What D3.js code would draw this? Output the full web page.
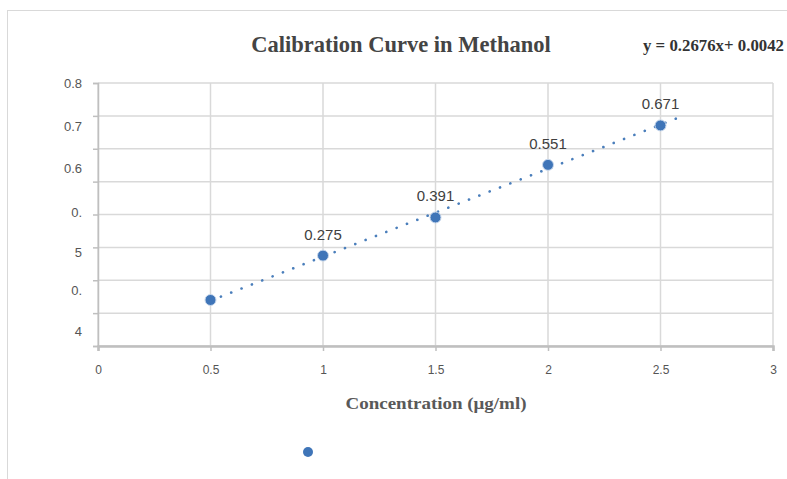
<!DOCTYPE html>
<html>
<head>
<meta charset="utf-8">
<script src="https://cdn.jsdelivr.net/npm/d3@7"></script>
<style>
  body { margin: 0; background: #fff; }
  svg { display: block; }
  .grid line { stroke: #d9d9d9; stroke-width: 1.5; }
  .axis text { font-family: "Liberation Sans", Arial, sans-serif; font-size: 12px; fill: #555; }
</style>
</head>
<body>
<div id="chart"></div>
<script>
// data
var concentrations = [0.5, 1, 1.5, 2, 2.5];
var absorbance = [0.140, 0.275, 0.391, 0.551, 0.671];
var pointLabels = ["", "0.275", "0.391", "0.551", "0.671"];

var xTicks = [0, 0.5, 1, 1.5, 2, 2.5, 3];
var yGrid = [0, 0.1, 0.2, 0.3, 0.4, 0.5, 0.6, 0.7, 0.8];
// the y labels in the source are broken up, keep them as they are drawn
var yTickLabels = ["0.8", "0.7", "0.6", "0.", "5", "0.", "4"];
var yTickLabelAt = [0.8, 0.667, 0.54, 0.405, 0.285, 0.17, 0.045];

var slope = 0.2676, intercept = 0.0042;
var trendRange = [0.5, 2.57];

var W = 787, H = 479;
var margin = { top: 83, right: 14, bottom: 133, left: 98 };

var svg = d3.select("#chart").append("svg")
    .attr("width", W)
    .attr("height", H);

// outer frame
svg.append("rect")
    .attr("x", 7.5).attr("y", 10.5)
    .attr("width", W + 20).attr("height", H + 20)
    .attr("fill", "none")
    .attr("stroke", "#d9d9d9");

var x = d3.scaleLinear().domain([0, 3]).range([margin.left, W - margin.right]);
var y = d3.scaleLinear().domain([0, 0.8]).range([H - margin.bottom, margin.top]);

// gridlines
var grid = svg.append("g").attr("class", "grid");
grid.selectAll(".h").data(yGrid).enter().append("line")
    .attr("class", "h")
    .attr("x1", x(0)).attr("x2", x(3))
    .attr("y1", function(d) { return y(d); })
    .attr("y2", function(d) { return y(d); });
grid.selectAll(".v").data(xTicks).enter().append("line")
    .attr("class", "v")
    .attr("x1", function(d) { return x(d); })
    .attr("x2", function(d) { return x(d); })
    .attr("y1", y(0.8)).attr("y2", y(0));

// y axis (ticks only, labels drawn separately)
var yAxis = d3.axisLeft(y).tickValues(yGrid).tickSize(5).tickFormat("");
var yG = svg.append("g")
    .attr("class", "axis")
    .attr("transform", "translate(" + x(0) + ",0)")
    .call(yAxis);
yG.select(".domain").attr("stroke", "#bfbfbf").attr("stroke-width", 1.5);
yG.selectAll(".tick line").attr("stroke", "#bfbfbf").attr("stroke-width", 1.5);

svg.append("g").selectAll("text")
    .data(yTickLabels).enter().append("text")
    .attr("x", 82)
    .attr("y", function(d, i) { return y(yTickLabelAt[i]); })
    .attr("dy", "0.35em")
    .attr("text-anchor", "end")
    .attr("font-family", "Liberation Sans, Arial, sans-serif")
    .attr("font-size", 13)
    .attr("fill", "#555")
    .text(function(d) { return d; });

// x axis
var xAxis = d3.axisBottom(x).tickValues(xTicks).tickSize(5).tickPadding(14)
    .tickFormat(function(d) { return d; });
var xG = svg.append("g")
    .attr("class", "axis")
    .attr("transform", "translate(0," + y(0) + ")")
    .call(xAxis);
xG.select(".domain").attr("stroke", "#bfbfbf").attr("stroke-width", 2.5);
xG.selectAll(".tick line").attr("stroke", "#bfbfbf").attr("stroke-width", 1.5);

// trendline
svg.append("line")
    .attr("x1", x(trendRange[0])).attr("y1", y(slope * trendRange[0] + intercept))
    .attr("x2", x(trendRange[1])).attr("y2", y(slope * trendRange[1] + intercept))
    .attr("stroke", "#4a7ebb")
    .attr("stroke-width", 2.6)
    .attr("stroke-linecap", "round")
    .attr("stroke-dasharray", "0.1 11");

// points
svg.append("g").selectAll("circle")
    .data(concentrations).enter().append("circle")
    .attr("cx", function(d) { return x(d); })
    .attr("cy", function(d, i) { return y(absorbance[i]); })
    .attr("r", 5.5)
    .attr("fill", "#3f75b8")
    .attr("stroke", "#c9d8ec")
    .attr("stroke-width", 1);

// data labels
svg.append("g").selectAll("text")
    .data(concentrations).enter().append("text")
    .attr("x", function(d) { return x(d); })
    .attr("y", function(d, i) { return y(absorbance[i]) - 16; })
    .attr("text-anchor", "middle")
    .attr("font-family", "Liberation Sans, Arial, sans-serif")
    .attr("font-size", 15)
    .attr("fill", "#404040")
    .text(function(d, i) { return pointLabels[i]; });

// title
svg.append("text")
    .attr("x", 401).attr("y", 52)
    .attr("text-anchor", "middle")
    .attr("font-family", "Liberation Serif, Times New Roman, serif")
    .attr("font-weight", "bold")
    .attr("font-size", 22.5)
    .attr("fill", "#444")
    .text("Calibration Curve in Methanol");

// equation (squeezed a little so it stays inside the picture)
svg.append("text")
    .attr("x", 643).attr("y", 51)
    .attr("font-family", "Liberation Serif, Times New Roman, serif")
    .attr("font-weight", "bold")
    .attr("font-size", 17)
    .attr("textLength", 141)
    .attr("lengthAdjust", "spacingAndGlyphs")
    .attr("fill", "#333")
    .text("y = " + slope + "x+ 0.0042");

// x axis title
svg.append("text")
    .attr("x", 436).attr("y", 409)
    .attr("text-anchor", "middle")
    .attr("font-family", "Liberation Serif, Times New Roman, serif")
    .attr("font-weight", "bold")
    .attr("font-size", 17)
    .attr("textLength", 181)
    .attr("lengthAdjust", "spacingAndGlyphs")
    .attr("fill", "#595959")
    .text("Concentration (\u03bcg/ml)");

// legend marker
svg.append("circle")
    .attr("cx", 308).attr("cy", 452)
    .attr("r", 5)
    .attr("fill", "#3f75b8");
</script>
</body>
</html>
